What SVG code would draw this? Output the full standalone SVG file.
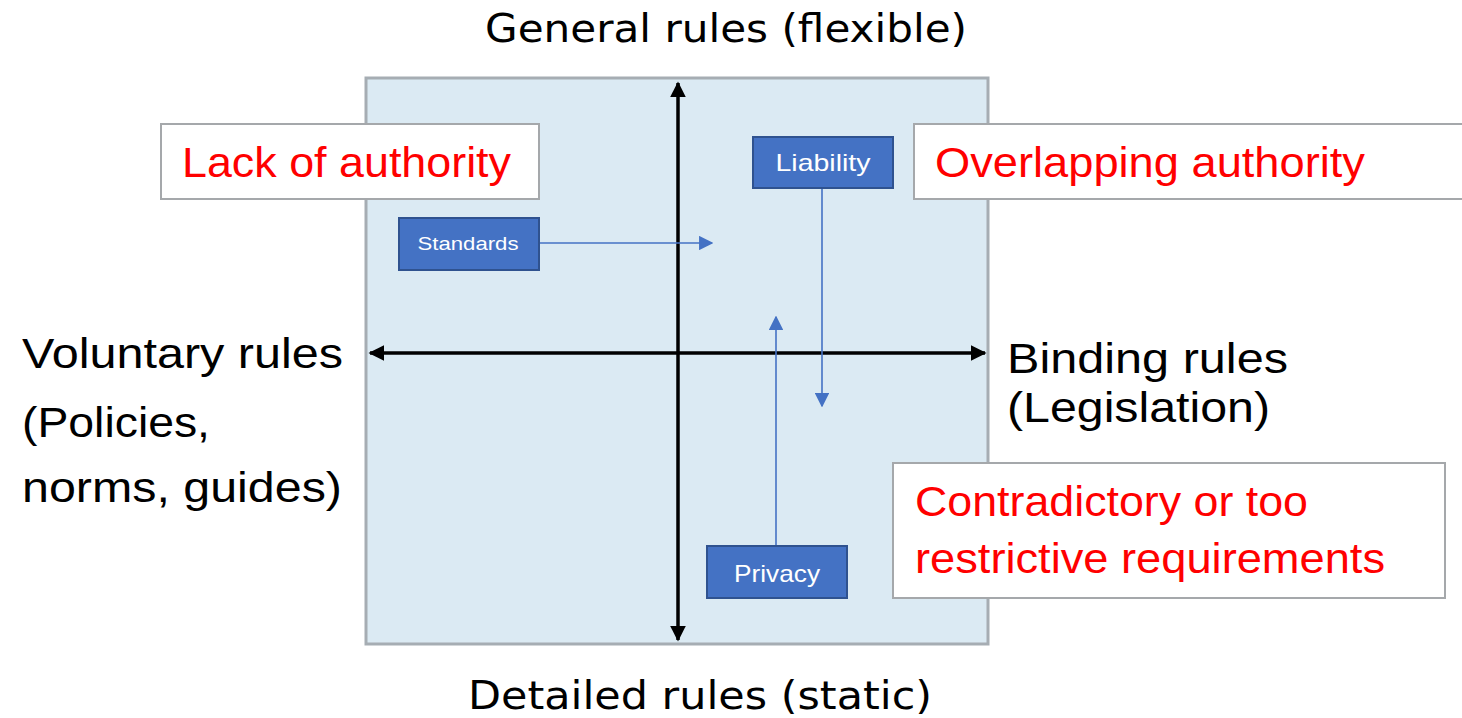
<svg xmlns="http://www.w3.org/2000/svg" width="1462" height="718" viewBox="0 0 1462 718">
<style>
.lbl{font-family:"Liberation Sans",Arial,sans-serif;fill:#000}
.ttl{font-family:"DejaVu Sans",Verdana,sans-serif;fill:#000}
.red{font-family:"Liberation Sans",Arial,sans-serif;fill:#ff0000;font-size:42px}
.callout{fill:#fff;stroke:#a5a8ab;stroke-width:2}
.node rect{fill:#4472c4;stroke:#2f528f;stroke-width:2}
.node text{font-family:"Liberation Sans",Arial,sans-serif;fill:#fff;text-anchor:middle}
.axis{stroke:#000;stroke-width:3.5;fill:none}
.conn{stroke:#4472c4;stroke-width:1.6;fill:none}
</style>
<defs>
<marker id="ah" viewBox="0 0 10 10" refX="9" refY="5" markerWidth="4.5" markerHeight="4.5" orient="auto-start-reverse" markerUnits="strokeWidth">
<path d="M0,0 L10,5 L0,10 z" fill="#000"/>
</marker>
<marker id="bh" viewBox="0 0 10 10" refX="9" refY="5" markerWidth="9" markerHeight="9" orient="auto" markerUnits="strokeWidth">
<path d="M0,0 L10,5 L0,10 z" fill="#4472c4"/>
</marker>
</defs>
<rect width="1462" height="718" fill="#fff"/>
<g id="quadrant">
<rect x="366" y="78" width="622" height="566" fill="#dbeaf3" stroke="#a6adb3" stroke-width="3"/>
</g>
<g id="axes">
<line class="axis" x1="678" y1="640" x2="678" y2="83" marker-start="url(#ah)" marker-end="url(#ah)"/>
<line class="axis" x1="370" y1="353" x2="985" y2="353" marker-start="url(#ah)" marker-end="url(#ah)"/>
</g>
<g id="axis-labels">
<text class="ttl" x="726" y="42" font-size="39" text-anchor="middle" textLength="482" lengthAdjust="spacingAndGlyphs">General rules (flexible)</text>
<text class="ttl" x="700" y="709" font-size="39" text-anchor="middle" textLength="464" lengthAdjust="spacingAndGlyphs">Detailed rules (static)</text>
<text class="lbl" x="22" y="368" font-size="43" textLength="321" lengthAdjust="spacingAndGlyphs">Voluntary rules</text>
<text class="lbl" x="22" y="437" font-size="43" textLength="188" lengthAdjust="spacingAndGlyphs">(Policies,</text>
<text class="lbl" x="22" y="502" font-size="43" textLength="320" lengthAdjust="spacingAndGlyphs">norms, guides)</text>
<text class="lbl" x="1007" y="373" font-size="43" textLength="281" lengthAdjust="spacingAndGlyphs">Binding rules</text>
<text class="lbl" x="1007" y="422" font-size="43" textLength="263" lengthAdjust="spacingAndGlyphs">(Legislation)</text>
</g>
<g id="lack-of-authority">
<rect class="callout" x="161" y="124" width="378" height="75"/>
<text class="red" x="182" y="177" textLength="329" lengthAdjust="spacingAndGlyphs">Lack of authority</text>
</g>
<g id="overlapping-authority">
<rect class="callout" x="914" y="124" width="560" height="75"/>
<text class="red" x="935" y="177" textLength="430" lengthAdjust="spacingAndGlyphs">Overlapping authority</text>
</g>
<g id="contradictory">
<rect class="callout" x="893" y="463" width="552" height="135"/>
<text class="red" x="915" y="516" textLength="393" lengthAdjust="spacingAndGlyphs">Contradictory or too</text>
<text class="red" x="915" y="573" textLength="470" lengthAdjust="spacingAndGlyphs">restrictive requirements</text>
</g>
<g id="connectors">
<line class="conn" x1="539" y1="243" x2="712" y2="243" marker-end="url(#bh)"/>
<line class="conn" x1="822" y1="188" x2="822" y2="406" marker-end="url(#bh)"/>
<line class="conn" x1="776" y1="545" x2="776" y2="317" marker-end="url(#bh)"/>
</g>
<g id="standards" class="node">
<rect x="399" y="218" width="140" height="52"/>
<text x="468" y="250" font-size="19" textLength="101" lengthAdjust="spacingAndGlyphs">Standards</text>
</g>
<g id="liability" class="node">
<rect x="753" y="137" width="140" height="51"/>
<text x="823" y="171" font-size="24" textLength="95" lengthAdjust="spacingAndGlyphs">Liability</text>
</g>
<g id="privacy" class="node">
<rect x="707" y="546" width="140" height="52"/>
<text x="777" y="582" font-size="24" textLength="86" lengthAdjust="spacingAndGlyphs">Privacy</text>
</g>
</svg>
